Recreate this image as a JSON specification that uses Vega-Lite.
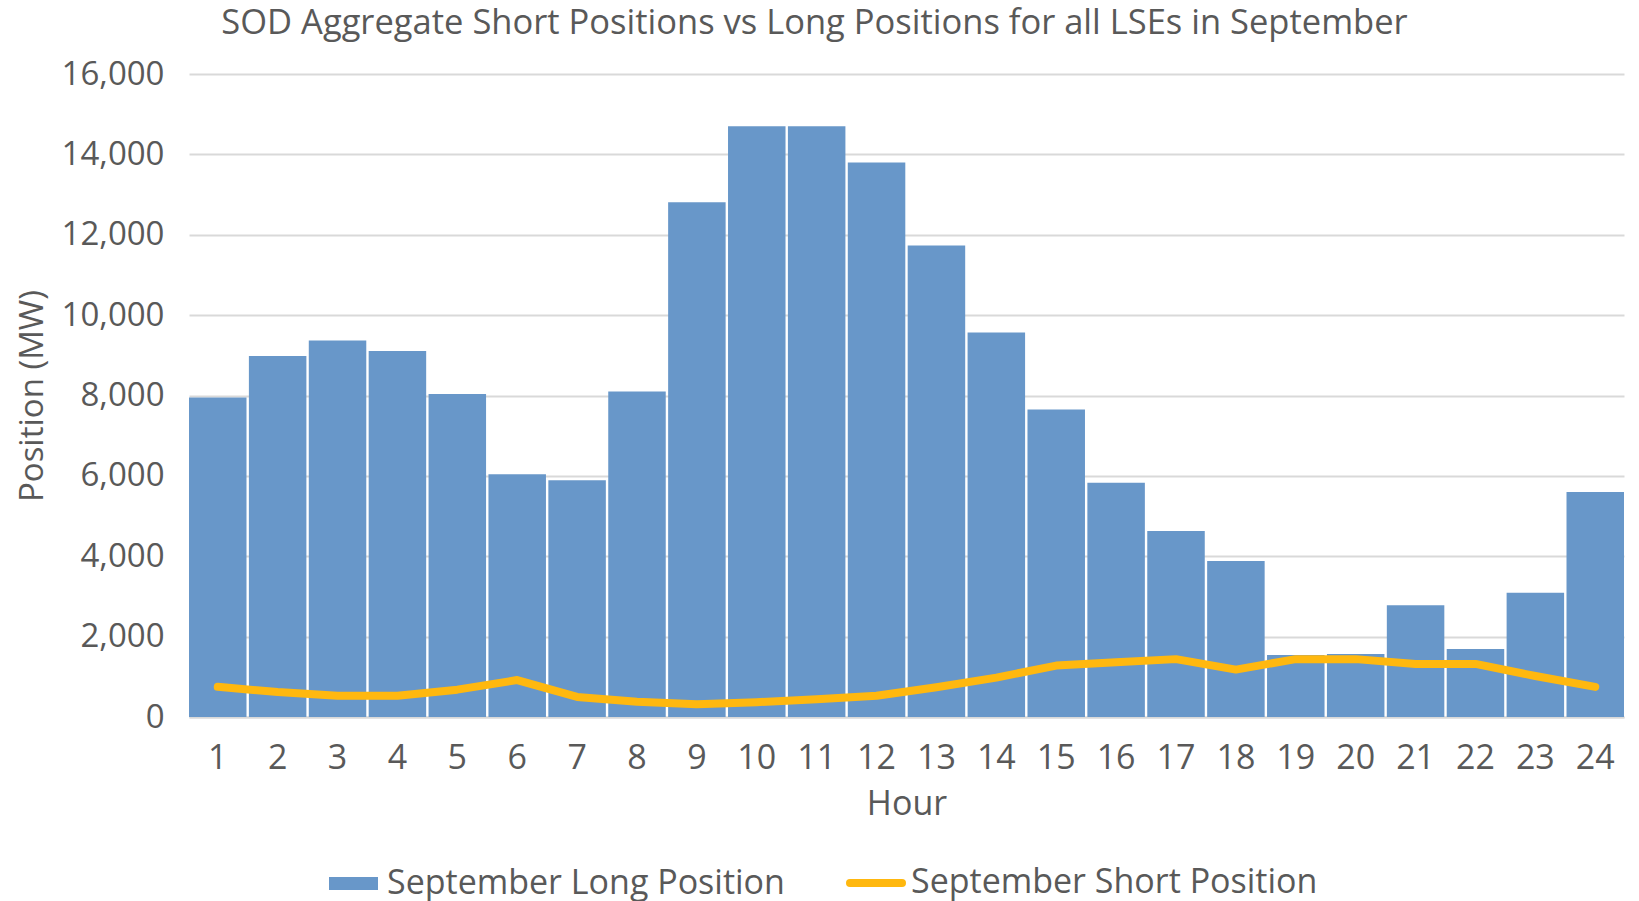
{
  "$schema": "https://vega.github.io/schema/vega-lite/v6.json",
  "width": 1435,
  "height": 643,
  "autosize": {"type": "none"},
  "padding": {"left": 189, "top": 74, "right": 15, "bottom": 184},
  "background": "white",
  "config": {"view": {"stroke": null}, "font": "Open Sans"},
  "title": {
    "text": "SOD Aggregate Short Positions vs Long Positions for all LSEs in September",
    "font": "Open Sans",
    "fontSize": 34.5,
    "fontWeight": "normal",
    "color": "#595959",
    "anchor": "middle",
    "frame": "group",
    "dx": -92,
    "offset": 17
  },
  "data": {
    "values": [
      {"hour": 1, "long": 7950, "short": 750},
      {"hour": 2, "long": 8980, "short": 620},
      {"hour": 3, "long": 9370, "short": 530},
      {"hour": 4, "long": 9110, "short": 530},
      {"hour": 5, "long": 8040, "short": 680},
      {"hour": 6, "long": 6040, "short": 920},
      {"hour": 7, "long": 5890, "short": 500},
      {"hour": 8, "long": 8100, "short": 380},
      {"hour": 9, "long": 12810, "short": 320},
      {"hour": 10, "long": 14700, "short": 370},
      {"hour": 11, "long": 14700, "short": 440},
      {"hour": 12, "long": 13800, "short": 530},
      {"hour": 13, "long": 11730, "short": 740},
      {"hour": 14, "long": 9570, "short": 980},
      {"hour": 15, "long": 7650, "short": 1280},
      {"hour": 16, "long": 5830, "short": 1360},
      {"hour": 17, "long": 4630, "short": 1440},
      {"hour": 18, "long": 3880, "short": 1180},
      {"hour": 19, "long": 1540, "short": 1440},
      {"hour": 20, "long": 1570, "short": 1440},
      {"hour": 21, "long": 2780, "short": 1320},
      {"hour": 22, "long": 1690, "short": 1320},
      {"hour": 23, "long": 3090, "short": 1020},
      {"hour": 24, "long": 5600, "short": 750}
    ]
  },
  "encoding": {
    "x": {
      "field": "hour",
      "type": "ordinal",
      "scale": {"paddingInner": 0.04, "paddingOuter": 0},
      "axis": {
        "title": "Hour",
        "titleFont": "Open Sans",
        "titleFontSize": 34,
        "titleFontWeight": "normal",
        "titleColor": "#595959",
        "titlePadding": 12,
        "labelFont": "Open Sans",
        "labelFontSize": 34,
        "labelColor": "#595959",
        "labelAngle": 0,
        "labelPadding": 24,
        "ticks": false,
        "grid": false,
        "domainColor": "#D9D9D9",
        "domainWidth": 2
      }
    }
  },
  "layer": [
    {
      "mark": {"type": "bar"},
      "encoding": {
        "y": {
          "field": "long",
          "type": "quantitative",
          "scale": {"domain": [0, 16000], "nice": false},
          "axis": {
            "title": "Position (MW)",
            "titleFont": "Open Sans",
            "titleFontSize": 33,
            "titleFontWeight": "normal",
            "titleColor": "#595959",
            "titlePadding": 12,
            "values": [0, 2000, 4000, 6000, 8000, 10000, 12000, 14000, 16000],
            "format": ",.0f",
            "labelFont": "Open Sans",
            "labelFontSize": 33,
            "labelColor": "#595959",
            "labelPadding": 25,
            "ticks": false,
            "domain": false,
            "grid": true,
            "gridColor": "#D9D9D9",
            "gridWidth": 2
          }
        },
        "fill": {
          "datum": "September Long Position",
          "type": "nominal",
          "scale": {"range": ["#6897C9"]},
          "legend": {
            "title": null,
            "orient": "none",
            "legendX": 140,
            "legendY": 785,
            "padding": 0,
            "symbolType": "M-1,-0.27H1V0.27H-1Z",
            "symbolSize": 2401,
            "symbolStrokeWidth": 0,
            "labelFont": "Open Sans",
            "labelFontSize": 34,
            "labelColor": "#595959",
            "labelOffset": 9,
            "labelLimit": 0
          }
        }
      }
    },
    {
      "mark": {"type": "line", "strokeWidth": 8, "strokeCap": "round", "strokeJoin": "round"},
      "encoding": {
        "y": {
          "field": "short",
          "type": "quantitative",
          "scale": {"domain": [0, 16000], "nice": false},
          "axis": {
            "title": "Position (MW)",
            "titleFont": "Open Sans",
            "titleFontSize": 33,
            "titleFontWeight": "normal",
            "titleColor": "#595959",
            "titlePadding": 12,
            "values": [0, 2000, 4000, 6000, 8000, 10000, 12000, 14000, 16000],
            "format": ",.0f",
            "labelFont": "Open Sans",
            "labelFontSize": 33,
            "labelColor": "#595959",
            "labelPadding": 25,
            "ticks": false,
            "domain": false,
            "grid": true,
            "gridColor": "#D9D9D9",
            "gridWidth": 2
          }
        },
        "stroke": {
          "datum": "September Short Position",
          "type": "nominal",
          "scale": {"range": ["#FFB80F"]},
          "legend": {
            "title": null,
            "orient": "none",
            "legendX": 657,
            "legendY": 779,
            "padding": 0,
            "symbolType": "stroke",
            "symbolSize": 2704,
            "symbolStrokeWidth": 8,
            "labelFont": "Open Sans",
            "labelFontSize": 34,
            "labelColor": "#595959",
            "labelOffset": 5,
            "labelLimit": 0,
            "encode": {"symbols": {"update": {"strokeCap": {"value": "round"}}}}
          }
        }
      }
    }
  ]
}
